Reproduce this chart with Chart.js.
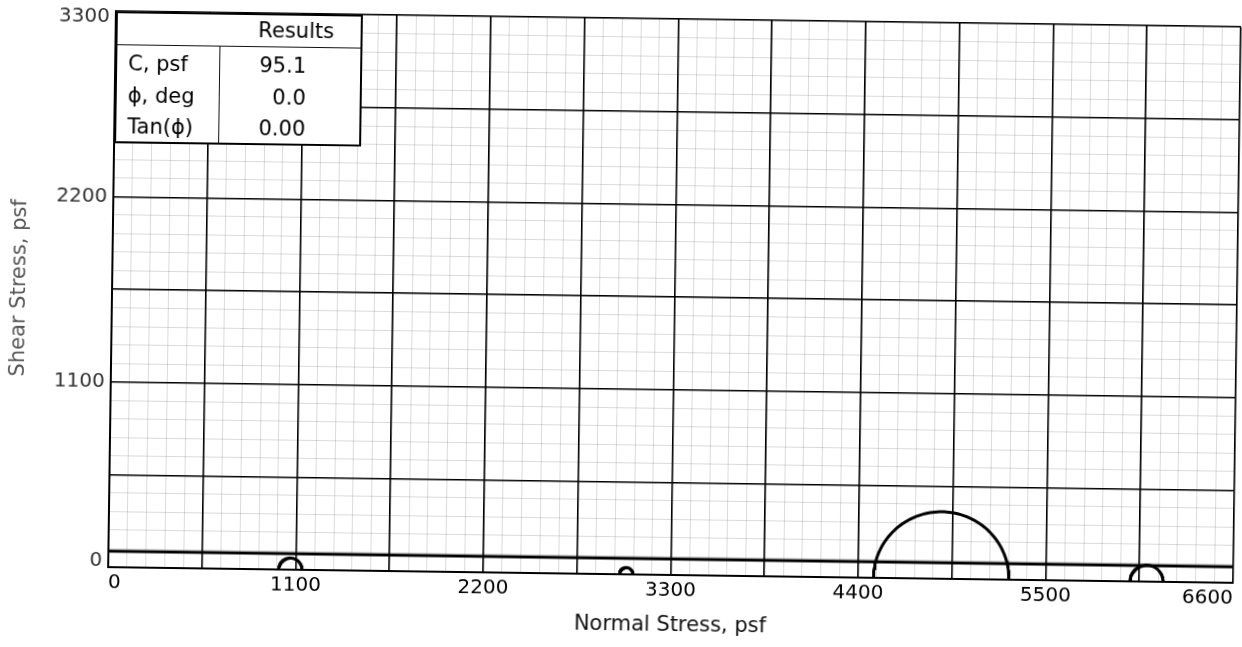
<!DOCTYPE html>
<html>
<head>
<meta charset="utf-8">
<script src="https://cdn.jsdelivr.net/npm/chart.js@4/dist/chart.umd.min.js"></script>
<style>
html,body{margin:0;padding:0;background:#fff;overflow:hidden;width:1242px;height:647px;}
#wrap{position:absolute;left:0;top:0;width:1242px;height:647px;transform-origin:674.5px 297px;transform:rotate(0.8deg);}
#chart{position:absolute;left:0;top:0;}
#results{position:absolute;left:112px;top:19px;width:247px;height:132px;background:#fff;border:2px solid #000;box-sizing:border-box;font-family:"DejaVu Sans",sans-serif;font-size:21px;color:#000;}
#results .hline{position:absolute;left:0;right:0;top:31px;height:0;border-top:1.5px solid #111;}
#results .vline{position:absolute;left:102px;top:32px;bottom:0;width:0;border-left:1.5px solid #111;}
#results .cell{position:absolute;height:33px;line-height:33px;white-space:nowrap;}
#results .hdr{left:104px;width:141px;text-align:center;padding-left:8px;box-sizing:border-box;top:-1px;}
#results .lab{left:11px;}
#results .val{right:54px;text-align:right;}
</style>
</head>
<body>
<div id="wrap">
  <canvas id="chart" width="1242" height="647"></canvas>
  <div id="results">
    <div class="hline"></div>
    <div class="vline"></div>
    <div class="cell hdr">Results</div>
    <div class="cell lab" style="top:34px">C, psf</div>
    <div class="cell val" id="vC" style="top:34px"></div>
    <div class="cell lab" style="top:66px">ϕ, deg</div>
    <div class="cell val" id="vPhi" style="top:66px"></div>
    <div class="cell lab" style="top:97px">Tan(ϕ)</div>
    <div class="cell val" id="vTan" style="top:97px"></div>
  </div>
</div>
<script>
// ---- data ----
const xMin = 0, xMax = 6600;
const yMin = 0, yMax = 3300;
const majorStep = 550;
const minorStep = 110;
const xTickLabels = ['0', '1100', '2200', '3300', '4400', '5500', '6600'];
const yTickLabels = ['0', '1100', '2200', '3300'];
// Mohr circles: minor and major principal stresses (psf)
const sigma3 = [1000, 3000, 4490, 5995];
const sigma1 = [1138, 3080, 5285, 6190];
// failure envelope results
const cohesion = 95.1;
const phiDeg = 0.0;
const tanPhi = 0.00;

document.getElementById('vC').textContent = cohesion.toFixed(1);
document.getElementById('vPhi').textContent = phiDeg.toFixed(1);
document.getElementById('vTan').textContent = tanPhi.toFixed(2);

function semicircle(s3, s1) {
  const c = (s1 + s3) / 2, r = (s1 - s3) / 2, pts = [];
  for (let i = 0; i <= 90; i++) {
    const a = Math.PI * i / 90;
    pts.push({x: c - r * Math.cos(a), y: r * Math.sin(a)});
  }
  return pts;
}

const datasets = [{
  data: [{x: xMin, y: cohesion + xMin * tanPhi}, {x: xMax, y: cohesion + xMax * tanPhi}],
  borderColor: '#000', borderWidth: 3, pointRadius: 0, showLine: true
}];
sigma3.forEach((s3, i) => {
  datasets.push({
    data: semicircle(s3, sigma1[i]),
    borderColor: '#000', borderWidth: 3, pointRadius: 0, showLine: true, tension: 0
  });
});

const tickFont = {family: 'DejaVu Sans', size: 20};
new Chart(document.getElementById('chart'), {
  type: 'scatter',
  data: {datasets},
  options: {
    responsive: false,
    animation: false,
    devicePixelRatio: 1,
    layout: {padding: {top: 19, right: 5, left: 0, bottom: 0}},
    plugins: {legend: {display: false}, tooltip: {enabled: false}},
    scales: {
      xm: {
        type: 'linear', position: 'bottom', min: xMin, max: xMax, z: -1,
        ticks: {display: false, stepSize: minorStep, autoSkip: false},
        grid: {color: 'rgba(0,0,0,0.14)', lineWidth: 1, borderDash: [1, 5], drawTicks: false},
        border: {display: false},
        afterFit: s => { s.height = 0; }
      },
      ym: {
        type: 'linear', position: 'left', min: yMin, max: yMax, z: -1,
        ticks: {display: false, stepSize: minorStep, autoSkip: false},
        grid: {color: 'rgba(0,0,0,0.14)', lineWidth: 1, borderDash: [1, 5], drawTicks: false},
        border: {display: false},
        afterFit: s => { s.width = 0; }
      },
      x: {
        type: 'linear', position: 'bottom', min: xMin, max: xMax,
        ticks: {
          stepSize: majorStep, autoSkip: false, maxRotation: 0, align: 'inner',
          padding: 4, color: '#000', font: tickFont,
          callback: v => xTickLabels.includes(String(v)) ? String(v) : ''
        },
        grid: {color: '#000', lineWidth: 1.6, drawTicks: false},
        border: {color: '#000', width: 2},
        title: {display: true, text: 'Normal Stress, psf', color: '#111',
                font: {family: 'DejaVu Sans', size: 21}, padding: {top: 0, bottom: 9}},
        afterFit: s => { s.height = 72; }
      },
      y: {
        type: 'linear', position: 'left', min: yMin, max: yMax,
        ticks: {
          stepSize: majorStep, autoSkip: false, padding: 6, color: '#333',
          font: {family: 'DejaVu Sans', size: 20, lineHeight: 0.6},
          callback: v => {
            const s = String(v);
            if (!yTickLabels.includes(s)) return '';
            if (v === yMax) return ['', s];
            if (v === yMin) return [s, ''];
            return s;
          }
        },
        grid: {color: '#000', lineWidth: 1.6, drawTicks: false},
        border: {color: '#000', width: 2},
        title: {display: true, text: 'Shear Stress, psf', color: '#555',
                font: {family: 'DejaVu Sans', size: 21}, padding: {top: 7, bottom: 0}},
        afterFit: s => { s.width = 112; }
      }
    }
  }
});
</script>
</body>
</html>
